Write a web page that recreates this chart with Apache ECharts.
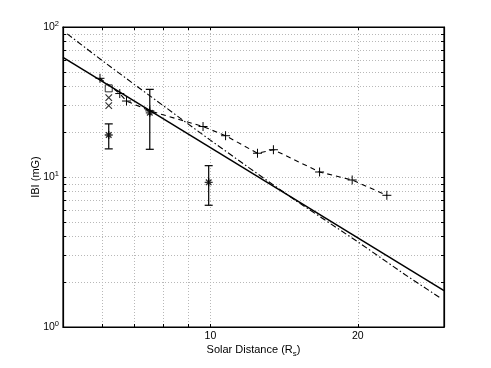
<!DOCTYPE html>
<html><head><meta charset="utf-8">
<script src="https://cdn.jsdelivr.net/npm/echarts@6/dist/echarts.min.js"></script>
<style>html,body{margin:0;padding:0;background:#fff}#c{width:491px;height:368px}</style>
</head><body><div id="c"></div>
<script>
// ---- data ----
const xTickValues = [6, 7, 8, 9, 10, 20];
const xLabelValues = [10, 20];
const yTickValues = [1,2,3,4,5,6,7,8,9,10,20,30,40,50,60,70,80,90,100];
const yLabelValues = [1, 10, 100];

const solidX = [5, 30];
const solidY = [62.8, 1.75];

const dashDotX = [5.1, 6, 7, 8, 9, 10, 12, 15, 20, 25, 29.5];
const dashDotY = [90, 60, 41.3, 30, 22.6, 17.6, 11.5, 6.9, 3.7, 2.23, 1.56];

const dashedX = [5.95, 6.53, 6.74, 7.52, 9.66, 10.74, 12.48, 13.45, 16.71, 19.48, 22.93];
const dashedY = [45.5, 36.0, 32.1, 27.6, 21.7, 18.85, 14.4, 15.2, 10.8, 9.55, 7.55];

const squareX = [6.2];
const squareY = [39.0];

const crossX = [6.2, 6.2];
const crossY = [33.8, 29.9];

const starX = [6.2, 7.52, 9.92];
const starY = [19.05, 26.8, 9.22];
const starLow = [15.4, 15.3, 6.48];
const starHigh = [22.6, 38.4, 11.9];

// ---- build ----
const zip = (a, b) => a.map((v, i) => [v, b[i]]);
const PLUS = 'path://M0,5L10,5M5,0L5,10';
const CROSS = 'path://M0,0L10,10M10,0L0,10';
const STAR = 'path://M5,0L5,10M0,5L10,5M1.5,1.5L8.5,8.5M8.5,1.5L1.5,8.5';
const FONT = 'Liberation Sans';
const strokeItem = {color: 'none', borderColor: '#000', borderWidth: 1};

const gridLine = {show: true, lineStyle: {color: '#b8b8b8', type: [1, 2], width: 1}};

const chart = echarts.init(document.getElementById('c'));
chart.setOption({
  animation: false,
  backgroundColor: '#fff',
  textStyle: {fontFamily: FONT},
  grid: {left: 63, right: 47, top: 27, bottom: 41, show: true, borderColor: '#000', borderWidth: 1.2, backgroundColor: 'transparent'},
  xAxis: [{
    type: 'log', logBase: 10, min: 5, max: 30, position: 'bottom',
    axisLine: {show: true, lineStyle: {color: '#000', width: 1.2}},
    axisTick: {show: true, inside: true, length: 3, customValues: xTickValues, lineStyle: {color: '#000'}},
    axisLabel: {show: true, customValues: xLabelValues, color: '#000', fontSize: 10.5, margin: 4, fontFamily: FONT},
    splitLine: gridLine, minorTick: {show: false},
    name: 'Solar Distance (R{sub|s})', nameLocation: 'middle', nameGap: 15, nameMoveOverlap: false,
    nameTextStyle: {color: '#000', fontSize: 11, fontFamily: FONT,
      rich: {sub: {fontSize: 8, verticalAlign: 'top', padding: [8, 0, 0, 0], fontFamily: FONT, color: '#000'}}}
  }, {
    type: 'log', logBase: 10, min: 5, max: 30, position: 'top',
    axisLine: {show: true, lineStyle: {color: '#000', width: 1.2}},
    axisTick: {show: true, inside: true, length: 3, customValues: xTickValues, lineStyle: {color: '#000'}},
    axisLabel: {show: false}, splitLine: {show: false}
  }],
  yAxis: [{
    type: 'log', logBase: 10, min: 1, max: 100, position: 'left',
    axisLine: {show: true, lineStyle: {color: '#000', width: 1.2}},
    axisTick: {show: true, inside: true, length: 3, customValues: yTickValues, lineStyle: {color: '#000'}},
    axisLabel: {show: true, customValues: yLabelValues, color: '#000', fontSize: 10.5, margin: 4, fontFamily: FONT,
      formatter: v => '10{sup|' + Math.round(Math.log10(v)) + '}',
      rich: {sup: {fontSize: 7.5, verticalAlign: 'bottom', padding: [0, 0, 6, 0], color: '#000', fontFamily: FONT}}},
    splitLine: gridLine,
    name: 'IBI (mG)', nameLocation: 'middle', nameGap: 22, nameMoveOverlap: false,
    nameTextStyle: {color: '#000', fontSize: 11, fontFamily: FONT}
  }, {
    type: 'log', logBase: 10, min: 1, max: 100, position: 'right',
    axisLine: {show: true, lineStyle: {color: '#000', width: 1.2}},
    axisTick: {show: true, inside: true, length: 3, customValues: yTickValues, lineStyle: {color: '#000'}},
    axisLabel: {show: false}, splitLine: {show: false}
  }],
  series: [
    {type: 'line', data: zip(solidX, solidY), symbol: 'none', lineStyle: {color: '#000', width: 1.5}, z: 3},
    {type: 'line', data: zip(dashDotX, dashDotY), symbol: 'none', smooth: false,
     lineStyle: {color: '#000', width: 1.1, type: [6, 2.5, 1.5, 2.5]}, z: 3},
    {type: 'line', data: zip(dashedX, dashedY), symbol: PLUS, symbolSize: 9, showSymbol: true,
     itemStyle: strokeItem, lineStyle: {color: '#000', width: 1.1, type: [5, 4]}, z: 4},
    {type: 'scatter', data: zip(squareX, squareY), symbol: 'rect', symbolSize: 7, itemStyle: strokeItem, z: 5},
    {type: 'scatter', data: zip(crossX, crossY), symbol: CROSS, symbolSize: 6.5, itemStyle: {color: 'none', borderColor: '#000', borderWidth: 1.2}, z: 5},
    {type: 'scatter', data: zip(starX, starY), symbol: STAR, symbolSize: 8, itemStyle: {color: 'none', borderColor: '#000', borderWidth: 1.3}, z: 5},
    {type: 'custom', z: 4,
     data: starX.map((x, i) => [x, starY[i], starLow[i], starHigh[i]]),
     encode: {x: 0, y: 1},
     renderItem: (params, api) => {
       const x = api.value(0);
       const pLo = api.coord([x, api.value(2)]);
       const pHi = api.coord([x, api.value(3)]);
       const h = 4;
       const st = {stroke: '#000', lineWidth: 1.2};
       return {type: 'group', children: [
         {type: 'line', shape: {x1: pLo[0], y1: pLo[1], x2: pHi[0], y2: pHi[1]}, style: st},
         {type: 'line', shape: {x1: pLo[0] - h, y1: pLo[1], x2: pLo[0] + h, y2: pLo[1]}, style: st},
         {type: 'line', shape: {x1: pHi[0] - h, y1: pHi[1], x2: pHi[0] + h, y2: pHi[1]}, style: st}
       ]};
     }}
  ]
});
</script></body></html>
